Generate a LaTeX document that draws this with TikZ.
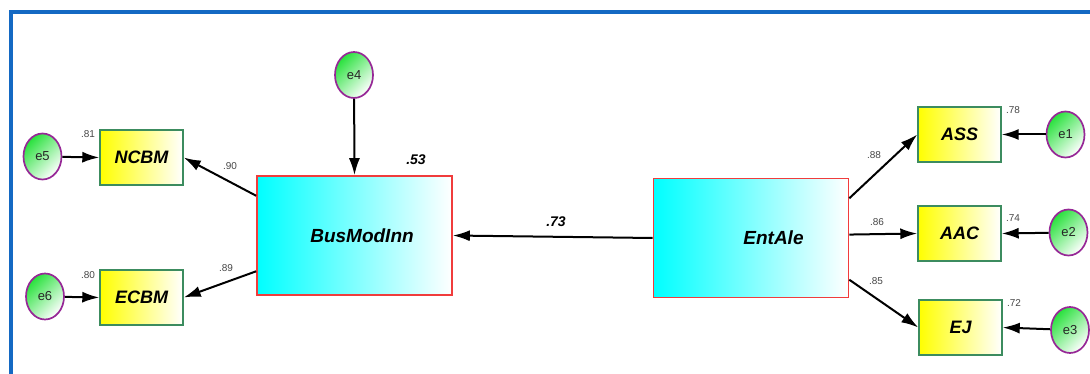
\documentclass[tikz,border=0pt]{standalone}
\usepackage{fontspec}
\setmainfont{Liberation Sans}
\usetikzlibrary{arrows.meta,shapes.geometric}

\definecolor{FrameBlue}{RGB}{20,105,195}
\definecolor{ObsGreen}{RGB}{60,140,95}
\definecolor{LatRed}{RGB}{240,60,60}
\definecolor{ErrPurple}{RGB}{150,40,150}
\definecolor{ErrFill}{RGB}{40,225,60}
\definecolor{CoefGray}{RGB}{70,70,70}

\begin{document}
\begin{tikzpicture}[x=1pt,y=-1pt]
  \tikzset{ObsStyle/.style = {
    shape         = rectangle,
    draw          = ObsGreen,
    left color    = yellow,
    right color   = white,
    line width    = 1.4pt,
    text          = black,
    font          = \fontsize{18}{18}\selectfont\bfseries\itshape,
    inner sep     = 0pt,
    minimum width = 83pt,
    minimum height= 55pt
    }
  }
  \tikzset{LatStyle/.style = {
    shape         = rectangle,
    draw          = LatRed,
    left color    = cyan,
    right color   = white,
    line width    = 1.6pt,
    text          = black,
    font          = \fontsize{19}{19}\selectfont\bfseries\itshape,
    inner sep     = 0pt,
    minimum width = 195pt,
    minimum height= 119pt
    }
  }
  \tikzset{ErrStyle/.style = {
    shape         = ellipse,
    draw          = ErrPurple,
    left color    = ErrFill,
    right color   = white,
    shading angle = 45,
    line width    = 1.7pt,
    text          = black!85,
    font          = \fontsize{13}{13}\selectfont,
    inner sep     = 0pt,
    minimum width = 38pt,
    minimum height= 46pt
    }
  }
  \tikzset{PathStyle/.style = {
    draw          = black,
    line width    = 2pt,
    -{Latex[length=17pt,width=11pt]}
    }
  }
  \tikzset{CoefStyle/.style = {
    text          = CoefGray,
    font          = \fontsize{10}{10}\selectfont,
    inner sep     = 0pt
    }
  }
  \tikzset{BigCoefStyle/.style = {
    text          = black,
    font          = \fontsize{14}{14}\selectfont\bfseries\itshape,
    inner sep     = 0pt
    }
  }

  \useasboundingbox (0,0) rectangle (1090,374);
  % frame
  \draw[FrameBlue, line width=3.5pt] (11,374) -- (11,12) -- (1090,12);

  % latent variables
  \node[LatStyle](Bus) at (354.5,235.5) {\hspace*{15pt}BusModInn};
  \node[LatStyle](Ent) at (751,238) {\hspace*{45pt}EntAle};

  % indicators
  \node[ObsStyle](NCBM) at (141.5,157.5) {NCBM};
  \node[ObsStyle](ECBM) at (141.5,297.5) {ECBM};
  \node[ObsStyle](ASS) at (959.5,134.5) {ASS};
  \node[ObsStyle](AAC) at (959.5,233.5) {AAC};
  \node[ObsStyle](EJ) at (960.5,327.5) {EJ};

  % error terms
  \node[ErrStyle](e1) at (1065.5,134.5) {e1};
  \node[ErrStyle](e2) at (1068.5,232.5) {e2};
  \node[ErrStyle](e3) at (1070,330) {e3};
  \node[ErrStyle](e4) at (354,75) {e4};
  \node[ErrStyle](e5) at (42.5,156.5) {e5};
  \node[ErrStyle](e6) at (45,296.5) {e6};

  % paths
  \draw[PathStyle](Ent.west) -- (Bus.east);
  \draw[PathStyle](e4) -- (Bus.north);
  \draw[PathStyle](Bus.158) -- (NCBM.east);
  \draw[PathStyle](Bus.200) -- (ECBM.east);
  \draw[PathStyle](Ent.22) -- (ASS.west);
  \draw[PathStyle](Ent.2) -- (AAC.west);
  \draw[PathStyle](Ent.337) -- (EJ.west);
  \draw[PathStyle](e1) -- (ASS.east);
  \draw[PathStyle](e2) -- (AAC.east);
  \draw[PathStyle](e3) -- (EJ.east);
  \draw[PathStyle](e5) -- (NCBM.west);
  \draw[PathStyle](e6) -- (ECBM.west);

  % estimates
  \node[BigCoefStyle](c73) at (556,222) {.73};
  \node[BigCoefStyle](r53) at (416,160) {.53};
  \node[CoefStyle](l90) at (230,166) {.90};
  \node[CoefStyle](l89) at (226,268) {.89};
  \node[CoefStyle](r81) at (88,134) {.81};
  \node[CoefStyle](r80) at (88,275) {.80};
  \node[CoefStyle](l88) at (874,155) {.88};
  \node[CoefStyle](l86) at (877,222) {.86};
  \node[CoefStyle](l85) at (876,281) {.85};
  \node[CoefStyle](r78) at (1013,110) {.78};
  \node[CoefStyle](r74) at (1013,218) {.74};
  \node[CoefStyle](r72) at (1014,303) {.72};
\end{tikzpicture}
\end{document}
